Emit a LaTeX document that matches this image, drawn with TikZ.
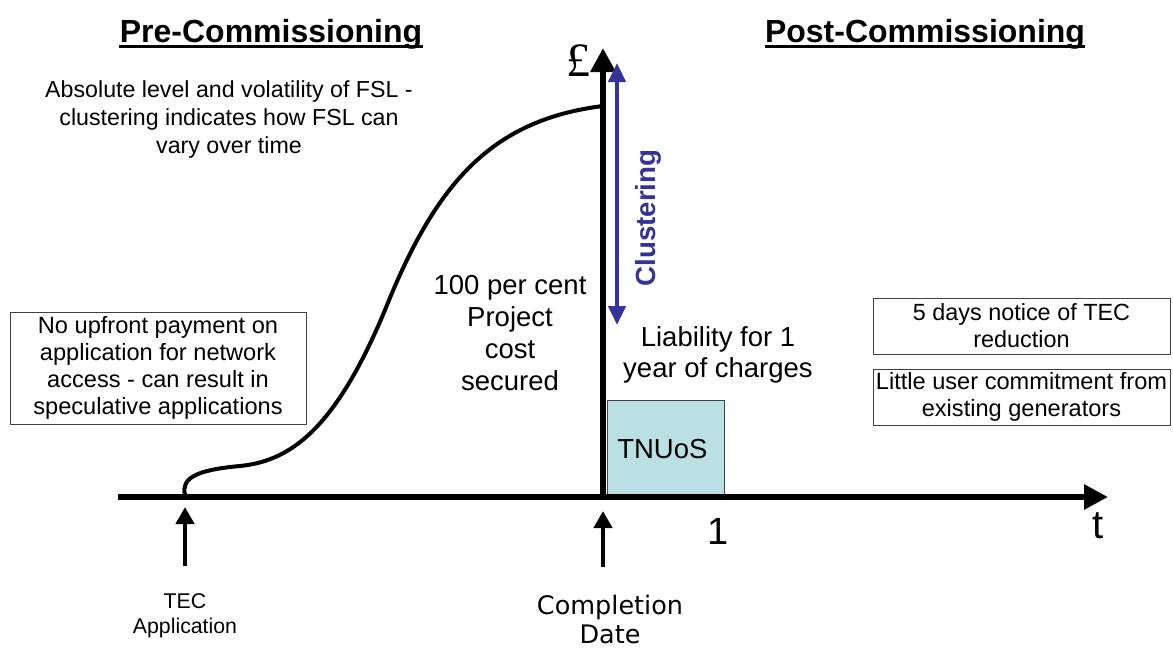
\documentclass[tikz,border=0pt]{standalone}
\usepackage{fontspec}
\setmainfont{Liberation Sans}
\newfontfamily\verdanafont{DejaVu Sans}
\newfontfamily\poundfont{Liberation Serif}
\usetikzlibrary{arrows.meta}
\definecolor{clusterblue}{RGB}{51,51,153}
\definecolor{tnuosfill}{RGB}{186,224,227}
\newcommand{\setsize}[2]{\fontsize{#1}{#2}\selectfont}
\tikzset{every picture/.style={line width=0.75pt}}
\tikzset{
  axisline/.style={line width=6.5pt, -{Triangle[length=24pt,width=24pt]}},
  pointer/.style={line width=4.5pt, -{Triangle[length=17pt,width=18pt]}},
  notebox/.style={draw=black!75, line width=0.8pt, align=center, inner sep=0pt},
  plaintext/.style={align=center, inner sep=0pt},
  titletext/.style={inner sep=0pt, font=\setsize{32}{36}\bfseries}
}

\begin{document}
\begin{tikzpicture}[x=1pt,y=1pt,yscale=-1,xscale=1]
\useasboundingbox (0,0) rectangle (1173,649);

% Coordinates
\coordinate (origin) at (118,497);
\coordinate (tend) at (1108,497);
\coordinate (ybase) at (603,499);
\coordinate (ytop) at (603,48);
\coordinate (clustertop) at (617,63);
\coordinate (clusterbottom) at (617,325);
\coordinate (tecmark) at (185,507);
\coordinate (tecfoot) at (185,566);
\coordinate (compmark) at (603,511);
\coordinate (compfoot) at (603,567);

%Shape: Rectangle
\node [draw=black!75, fill=tnuosfill, line width=0.8pt, minimum width=117pt, minimum height=96pt, anchor=south west, inner sep=0pt, font=\setsize{27.5}{32}] (tnuosbox) at (607,497) {TNUoS\hspace*{7pt}};

%Straight Lines
\draw [axisline] (origin) -- (tend) ;
\draw [axisline] (ybase) -- (ytop) ;
%Straight Lines
\draw [clusterblue, line width=4.5pt, {Triangle[length=19pt,width=17pt]}-{Triangle[length=19pt,width=17pt]}] (clustertop) -- (clusterbottom) ;
%Straight Lines
\draw [pointer] (tecfoot) -- (tecmark) ;
\draw [pointer] (compfoot) -- (compmark) ;

%Curve Lines
\draw [line width=4pt] (185,495) .. controls (181,478) and (196,470) .. (240,466) .. controls (290,461) and (335,430) .. (385,310) .. controls (435,185) and (490,120) .. (603,106) ;

% Text Node
\node [titletext, anchor=base] (pretitle) at (271,42) {Pre-Commissioning};
\draw [line width=3pt] ([yshift=4.5pt]pretitle.base west) -- ([yshift=4.5pt]pretitle.base east) ;
% Text Node
\node [titletext, anchor=base] (posttitle) at (925,42) {Post-Commissioning};
\draw [line width=3pt] ([yshift=4.5pt]posttitle.base west) -- ([yshift=4.5pt]posttitle.base east) ;
% Text Node
\node [plaintext, font=\setsize{23.2}{28}] (fslnote) at (229,119) {Absolute level and volatility of FSL -\\clustering indicates how FSL can\\vary over time};
% Text Node
\node [notebox, minimum width=296pt, minimum height=112pt, font=\setsize{23.6}{27}] (upfrontbox) at (158,368) {No upfront payment on\\application for network\\access - can result in\\speculative applications};
% Text Node
\node [plaintext, font=\setsize{27.5}{32}] (securednote) at (510,333) {100 per cent\\Project\\cost\\secured};
% Text Node
\node [plaintext, font=\setsize{27.5}{31}] (liabilitynote) at (718,355) {Liability for 1\\year of charges};
% Text Node
\node [notebox, minimum width=297pt, minimum height=56pt, font=\setsize{23.4}{27}] (noticebox) at (1021.5,326) {5 days notice of TEC\\reduction};
% Text Node
\node [notebox, minimum width=297pt, minimum height=56pt, font=\setsize{23.6}{27}] (commitbox) at (1021.5,397) {Little user commitment from\\existing generators};
% Text Node
\node [plaintext, font=\poundfont\setsize{48}{50}] (poundlabel) at (578,61) {£};
% Text Node
\node [plaintext, rotate=90, text=clusterblue, font=\setsize{27.7}{32}\bfseries] (clusterlabel) at (648,218) {Clustering};
% Text Node
\node [plaintext, font=\setsize{38}{40}] (onelabel) at (718,531) {1};
% Text Node
\node [plaintext, font=\setsize{40}{42}] (tlabel) at (1098,526) {t};
% Text Node
\node [plaintext, font=\setsize{21.3}{25}] (teclabel) at (185,616) {TEC\\Application};
% Text Node
\node [plaintext, font=\verdanafont\setsize{25.5}{29}] (completionlabel) at (610,619) {Completion\\Date};

\end{tikzpicture}
\end{document}
